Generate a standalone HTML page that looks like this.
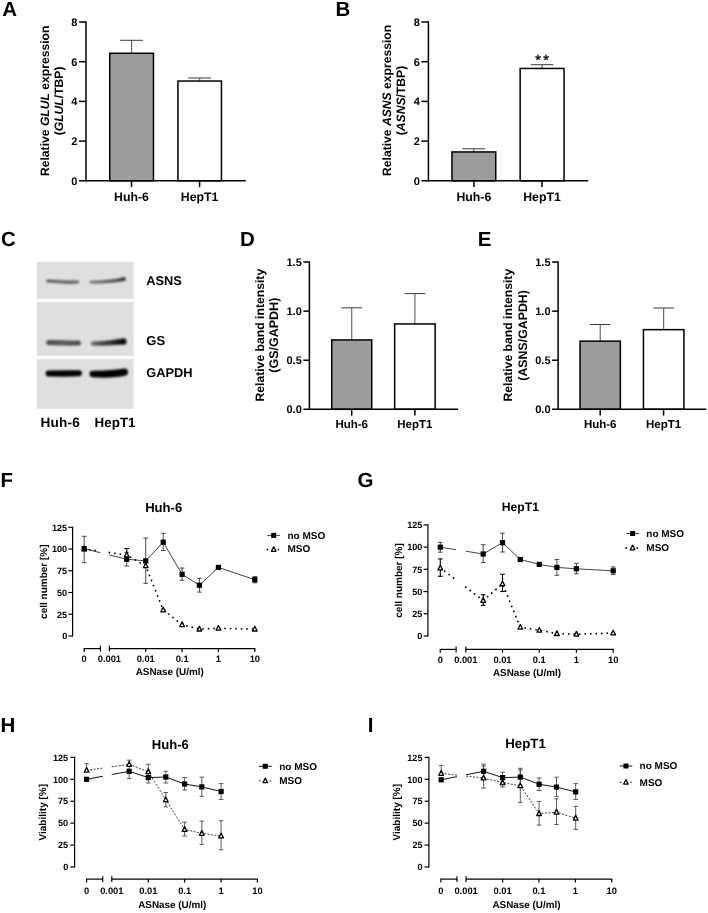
<!DOCTYPE html>
<html lang="en"><head><meta charset="utf-8"><title>Figure</title>
<style>html,body{margin:0;padding:0;background:#fff}svg{display:block}</style></head>
<body>
<svg width="708" height="913" viewBox="0 0 708 913" font-family='"Liberation Sans", Arial, Helvetica, sans-serif' fill="#000" text-rendering="geometricPrecision">
<defs>
<filter id="b1" x="-20%" y="-100%" width="140%" height="300%"><feGaussianBlur stdDeviation="0.9"/></filter>
<filter id="b2" x="-20%" y="-100%" width="140%" height="300%"><feGaussianBlur stdDeviation="1.2"/></filter>
<filter id="b3" x="-20%" y="-100%" width="140%" height="300%"><feGaussianBlur stdDeviation="0.95"/></filter>
</defs>
<rect width="708" height="913" fill="#fff"/>
<text x="2.3" y="16.3" font-size="20.5" font-weight="bold" text-anchor="start">A</text>
<text x="335.6" y="16.4" font-size="20.5" font-weight="bold" text-anchor="start">B</text>
<text x="1.0" y="245.5" font-size="20.5" font-weight="bold" text-anchor="start">C</text>
<text x="239.9" y="245.6" font-size="20.5" font-weight="bold" text-anchor="start">D</text>
<text x="477.8" y="245.6" font-size="20.5" font-weight="bold" text-anchor="start">E</text>
<text x="0.5" y="486.7" font-size="20.5" font-weight="bold" text-anchor="start">F</text>
<text x="357.6" y="486.9" font-size="20.5" font-weight="bold" text-anchor="start">G</text>
<text x="0.5" y="731.9" font-size="20.5" font-weight="bold" text-anchor="start">H</text>
<text x="367.8" y="731.9" font-size="20.5" font-weight="bold" text-anchor="start">I</text>
<line x1="131.60" y1="40.30" x2="131.60" y2="53.50" stroke="#3a3a3a" stroke-width="0.9"/>
<line x1="120.20" y1="40.30" x2="143.00" y2="40.30" stroke="#3a3a3a" stroke-width="1.0"/>
<line x1="199.70" y1="78.00" x2="199.70" y2="81.30" stroke="#3a3a3a" stroke-width="0.9"/>
<line x1="188.20" y1="78.00" x2="211.20" y2="78.00" stroke="#3a3a3a" stroke-width="1.0"/>
<rect x="109.75" y="53.25" width="43.70" height="127.55" fill="#9c9c9c" stroke="#000" stroke-width="1.5"/>
<rect x="177.95" y="81.05" width="43.50" height="99.75" fill="#fff" stroke="#000" stroke-width="1.5"/>
<line x1="86.00" y1="21.25" x2="86.00" y2="181.55" stroke="#000" stroke-width="1.5"/>
<line x1="79.00" y1="180.80" x2="245.80" y2="180.80" stroke="#000" stroke-width="1.5"/>
<text x="77.4" y="184.76000000000002" font-size="11" font-weight="bold" text-anchor="end">0</text>
<line x1="79.00" y1="141.10" x2="86.00" y2="141.10" stroke="#000" stroke-width="1.5"/>
<text x="77.4" y="145.06000000000003" font-size="11" font-weight="bold" text-anchor="end">2</text>
<line x1="79.00" y1="101.40" x2="86.00" y2="101.40" stroke="#000" stroke-width="1.5"/>
<text x="77.4" y="105.36" font-size="11" font-weight="bold" text-anchor="end">4</text>
<line x1="79.00" y1="61.70" x2="86.00" y2="61.70" stroke="#000" stroke-width="1.5"/>
<text x="77.4" y="65.66" font-size="11" font-weight="bold" text-anchor="end">6</text>
<line x1="79.00" y1="22.00" x2="86.00" y2="22.00" stroke="#000" stroke-width="1.5"/>
<text x="77.4" y="25.96" font-size="11" font-weight="bold" text-anchor="end">8</text>
<line x1="131.50" y1="180.80" x2="131.50" y2="187.10" stroke="#000" stroke-width="1.5"/>
<text x="131.5" y="201.0" font-size="12.3" font-weight="bold" text-anchor="middle">Huh-6</text>
<line x1="199.60" y1="180.80" x2="199.60" y2="187.10" stroke="#000" stroke-width="1.5"/>
<text x="199.6" y="201.0" font-size="12.3" font-weight="bold" text-anchor="middle">HepT1</text>
<text x="48.8" y="100.8" font-size="12.15" font-weight="bold" text-anchor="middle" transform="rotate(-90 48.8 100.8)">Relative <tspan font-style="italic">GLUL</tspan> expression</text>
<text x="62.8" y="100.9" font-size="12.15" font-weight="bold" text-anchor="middle" transform="rotate(-90 62.8 100.9)">(<tspan font-style="italic">GLUL</tspan>/TBP)</text>
<line x1="473.85" y1="148.80" x2="473.85" y2="152.20" stroke="#3a3a3a" stroke-width="0.9"/>
<line x1="462.45" y1="148.80" x2="485.25" y2="148.80" stroke="#3a3a3a" stroke-width="1.0"/>
<line x1="542.10" y1="64.70" x2="542.10" y2="68.70" stroke="#3a3a3a" stroke-width="0.9"/>
<line x1="530.70" y1="64.70" x2="553.50" y2="64.70" stroke="#3a3a3a" stroke-width="1.0"/>
<rect x="451.95" y="151.95" width="43.80" height="28.85" fill="#9c9c9c" stroke="#000" stroke-width="1.5"/>
<rect x="520.15" y="68.45" width="43.90" height="112.35" fill="#fff" stroke="#000" stroke-width="1.5"/>
<line x1="428.40" y1="21.25" x2="428.40" y2="181.55" stroke="#000" stroke-width="1.5"/>
<line x1="421.40" y1="180.80" x2="588.20" y2="180.80" stroke="#000" stroke-width="1.5"/>
<text x="419.79999999999995" y="184.76000000000002" font-size="11" font-weight="bold" text-anchor="end">0</text>
<line x1="421.40" y1="141.10" x2="428.40" y2="141.10" stroke="#000" stroke-width="1.5"/>
<text x="419.79999999999995" y="145.06000000000003" font-size="11" font-weight="bold" text-anchor="end">2</text>
<line x1="421.40" y1="101.40" x2="428.40" y2="101.40" stroke="#000" stroke-width="1.5"/>
<text x="419.79999999999995" y="105.36" font-size="11" font-weight="bold" text-anchor="end">4</text>
<line x1="421.40" y1="61.70" x2="428.40" y2="61.70" stroke="#000" stroke-width="1.5"/>
<text x="419.79999999999995" y="65.66" font-size="11" font-weight="bold" text-anchor="end">6</text>
<line x1="421.40" y1="22.00" x2="428.40" y2="22.00" stroke="#000" stroke-width="1.5"/>
<text x="419.79999999999995" y="25.96" font-size="11" font-weight="bold" text-anchor="end">8</text>
<line x1="473.90" y1="180.80" x2="473.90" y2="187.10" stroke="#000" stroke-width="1.5"/>
<text x="473.9" y="201.0" font-size="12.3" font-weight="bold" text-anchor="middle">Huh-6</text>
<line x1="542.00" y1="180.80" x2="542.00" y2="187.10" stroke="#000" stroke-width="1.5"/>
<text x="542.0" y="201.0" font-size="12.3" font-weight="bold" text-anchor="middle">HepT1</text>
<text x="391.2" y="100.4" font-size="12.15" font-weight="bold" text-anchor="middle" transform="rotate(-90 391.2 100.4)">Relative <tspan font-style="italic">ASNS</tspan> expression</text>
<text x="405.2" y="100.5" font-size="12.15" font-weight="bold" text-anchor="middle" transform="rotate(-90 405.2 100.5)">(<tspan font-style="italic">ASNS</tspan>/TBP)</text>
<text x="538.1" y="64.9" font-size="14.6" font-weight="normal" text-anchor="middle" stroke="#000" stroke-width="0.35">*</text>
<text x="546.0" y="64.9" font-size="14.6" font-weight="normal" text-anchor="middle" stroke="#000" stroke-width="0.35">*</text>
<line x1="351.75" y1="307.80" x2="351.75" y2="340.20" stroke="#3a3a3a" stroke-width="0.9"/>
<line x1="341.45" y1="307.80" x2="362.05" y2="307.80" stroke="#3a3a3a" stroke-width="1.0"/>
<line x1="414.90" y1="293.60" x2="414.90" y2="324.20" stroke="#3a3a3a" stroke-width="0.9"/>
<line x1="404.60" y1="293.60" x2="425.20" y2="293.60" stroke="#3a3a3a" stroke-width="1.0"/>
<rect x="331.75" y="339.95" width="40.00" height="69.35" fill="#9c9c9c" stroke="#000" stroke-width="1.5"/>
<rect x="394.65" y="323.95" width="40.50" height="85.35" fill="#fff" stroke="#000" stroke-width="1.5"/>
<line x1="309.40" y1="261.30" x2="309.40" y2="410.05" stroke="#000" stroke-width="1.5"/>
<line x1="303.40" y1="409.30" x2="458.10" y2="409.30" stroke="#000" stroke-width="1.5"/>
<text x="301.79999999999995" y="413.26" font-size="11" font-weight="bold" text-anchor="end">0.0</text>
<line x1="303.40" y1="360.22" x2="309.40" y2="360.22" stroke="#000" stroke-width="1.5"/>
<text x="301.79999999999995" y="364.1766666666667" font-size="11" font-weight="bold" text-anchor="end">0.5</text>
<line x1="303.40" y1="311.13" x2="309.40" y2="311.13" stroke="#000" stroke-width="1.5"/>
<text x="301.79999999999995" y="315.0933333333333" font-size="11" font-weight="bold" text-anchor="end">1.0</text>
<line x1="303.40" y1="262.05" x2="309.40" y2="262.05" stroke="#000" stroke-width="1.5"/>
<text x="301.79999999999995" y="266.01" font-size="11" font-weight="bold" text-anchor="end">1.5</text>
<line x1="351.70" y1="409.30" x2="351.70" y2="415.60" stroke="#000" stroke-width="1.5"/>
<text x="351.7" y="428.0" font-size="11.5" font-weight="bold" text-anchor="middle">Huh-6</text>
<line x1="414.90" y1="409.30" x2="414.90" y2="415.60" stroke="#000" stroke-width="1.5"/>
<text x="414.9" y="428.0" font-size="11.5" font-weight="bold" text-anchor="middle">HepT1</text>
<text x="263.8" y="335.2" font-size="12.2" font-weight="bold" text-anchor="middle" transform="rotate(-90 263.8 335.2)">Relative band intensity</text>
<text x="278.5" y="335.2" font-size="12.5" font-weight="bold" text-anchor="middle" transform="rotate(-90 278.5 335.2)">(GS/GAPDH)</text>
<line x1="600.20" y1="324.50" x2="600.20" y2="341.40" stroke="#3a3a3a" stroke-width="0.9"/>
<line x1="589.90" y1="324.50" x2="610.50" y2="324.50" stroke="#3a3a3a" stroke-width="1.0"/>
<line x1="663.70" y1="308.00" x2="663.70" y2="329.90" stroke="#3a3a3a" stroke-width="0.9"/>
<line x1="653.40" y1="308.00" x2="674.00" y2="308.00" stroke="#3a3a3a" stroke-width="1.0"/>
<rect x="580.05" y="341.15" width="40.30" height="68.15" fill="#9c9c9c" stroke="#000" stroke-width="1.5"/>
<rect x="643.45" y="329.65" width="40.50" height="79.65" fill="#fff" stroke="#000" stroke-width="1.5"/>
<line x1="558.10" y1="261.30" x2="558.10" y2="410.05" stroke="#000" stroke-width="1.5"/>
<line x1="552.10" y1="409.30" x2="706.40" y2="409.30" stroke="#000" stroke-width="1.5"/>
<text x="550.4999999999999" y="413.26" font-size="11" font-weight="bold" text-anchor="end">0.0</text>
<line x1="552.10" y1="360.22" x2="558.10" y2="360.22" stroke="#000" stroke-width="1.5"/>
<text x="550.4999999999999" y="364.1766666666667" font-size="11" font-weight="bold" text-anchor="end">0.5</text>
<line x1="552.10" y1="311.13" x2="558.10" y2="311.13" stroke="#000" stroke-width="1.5"/>
<text x="550.4999999999999" y="315.0933333333333" font-size="11" font-weight="bold" text-anchor="end">1.0</text>
<line x1="552.10" y1="262.05" x2="558.10" y2="262.05" stroke="#000" stroke-width="1.5"/>
<text x="550.4999999999999" y="266.01" font-size="11" font-weight="bold" text-anchor="end">1.5</text>
<line x1="600.20" y1="409.30" x2="600.20" y2="415.60" stroke="#000" stroke-width="1.5"/>
<text x="600.2" y="428.0" font-size="11.5" font-weight="bold" text-anchor="middle">Huh-6</text>
<line x1="663.60" y1="409.30" x2="663.60" y2="415.60" stroke="#000" stroke-width="1.5"/>
<text x="663.6" y="428.0" font-size="11.5" font-weight="bold" text-anchor="middle">HepT1</text>
<text x="512.5" y="335.2" font-size="12.2" font-weight="bold" text-anchor="middle" transform="rotate(-90 512.5 335.2)">Relative band intensity</text>
<text x="527.2" y="335.4" font-size="12.35" font-weight="bold" text-anchor="middle" transform="rotate(-90 527.2 335.4)">(ASNS/GAPDH)</text>
<rect x="36.8" y="261.8" width="96.9" height="36.9" fill="#dedede"/>
<rect x="36.8" y="302.1" width="96.9" height="53.7" fill="#dedede"/>
<rect x="36.8" y="359.2" width="96.9" height="49.6" fill="#dedede"/>
<g stroke="#fff" opacity="0.10">
<line x1="40.0" y1="262.3" x2="40.0" y2="298.3" stroke-width="0.7"/>
<line x1="40.0" y1="302.6" x2="40.0" y2="355.3" stroke-width="0.7"/>
<line x1="40.0" y1="359.7" x2="40.0" y2="408.3" stroke-width="0.7"/>
<line x1="42.3" y1="262.3" x2="42.3" y2="298.3" stroke-width="0.7"/>
<line x1="42.3" y1="302.6" x2="42.3" y2="355.3" stroke-width="0.7"/>
<line x1="42.3" y1="359.7" x2="42.3" y2="408.3" stroke-width="0.7"/>
<line x1="44.1" y1="262.3" x2="44.1" y2="298.3" stroke-width="0.5"/>
<line x1="44.1" y1="302.6" x2="44.1" y2="355.3" stroke-width="0.5"/>
<line x1="44.1" y1="359.7" x2="44.1" y2="408.3" stroke-width="0.5"/>
<line x1="45.9" y1="262.3" x2="45.9" y2="298.3" stroke-width="0.7"/>
<line x1="45.9" y1="302.6" x2="45.9" y2="355.3" stroke-width="0.7"/>
<line x1="45.9" y1="359.7" x2="45.9" y2="408.3" stroke-width="0.7"/>
<line x1="47.7" y1="262.3" x2="47.7" y2="298.3" stroke-width="0.9"/>
<line x1="47.7" y1="302.6" x2="47.7" y2="355.3" stroke-width="0.9"/>
<line x1="47.7" y1="359.7" x2="47.7" y2="408.3" stroke-width="0.9"/>
<line x1="50.0" y1="262.3" x2="50.0" y2="298.3" stroke-width="0.5"/>
<line x1="50.0" y1="302.6" x2="50.0" y2="355.3" stroke-width="0.5"/>
<line x1="50.0" y1="359.7" x2="50.0" y2="408.3" stroke-width="0.5"/>
<line x1="51.8" y1="262.3" x2="51.8" y2="298.3" stroke-width="0.7"/>
<line x1="51.8" y1="302.6" x2="51.8" y2="355.3" stroke-width="0.7"/>
<line x1="51.8" y1="359.7" x2="51.8" y2="408.3" stroke-width="0.7"/>
<line x1="55.4" y1="262.3" x2="55.4" y2="298.3" stroke-width="0.5"/>
<line x1="55.4" y1="302.6" x2="55.4" y2="355.3" stroke-width="0.5"/>
<line x1="55.4" y1="359.7" x2="55.4" y2="408.3" stroke-width="0.5"/>
<line x1="57.7" y1="262.3" x2="57.7" y2="298.3" stroke-width="0.5"/>
<line x1="57.7" y1="302.6" x2="57.7" y2="355.3" stroke-width="0.5"/>
<line x1="57.7" y1="359.7" x2="57.7" y2="408.3" stroke-width="0.5"/>
<line x1="61.3" y1="262.3" x2="61.3" y2="298.3" stroke-width="0.5"/>
<line x1="61.3" y1="302.6" x2="61.3" y2="355.3" stroke-width="0.5"/>
<line x1="61.3" y1="359.7" x2="61.3" y2="408.3" stroke-width="0.5"/>
<line x1="63.1" y1="262.3" x2="63.1" y2="298.3" stroke-width="0.5"/>
<line x1="63.1" y1="302.6" x2="63.1" y2="355.3" stroke-width="0.5"/>
<line x1="63.1" y1="359.7" x2="63.1" y2="408.3" stroke-width="0.5"/>
<line x1="64.9" y1="262.3" x2="64.9" y2="298.3" stroke-width="0.9"/>
<line x1="64.9" y1="302.6" x2="64.9" y2="355.3" stroke-width="0.9"/>
<line x1="64.9" y1="359.7" x2="64.9" y2="408.3" stroke-width="0.9"/>
<line x1="68.5" y1="262.3" x2="68.5" y2="298.3" stroke-width="0.5"/>
<line x1="68.5" y1="302.6" x2="68.5" y2="355.3" stroke-width="0.5"/>
<line x1="68.5" y1="359.7" x2="68.5" y2="408.3" stroke-width="0.5"/>
<line x1="70.8" y1="262.3" x2="70.8" y2="298.3" stroke-width="0.5"/>
<line x1="70.8" y1="302.6" x2="70.8" y2="355.3" stroke-width="0.5"/>
<line x1="70.8" y1="359.7" x2="70.8" y2="408.3" stroke-width="0.5"/>
<line x1="73.1" y1="262.3" x2="73.1" y2="298.3" stroke-width="0.7"/>
<line x1="73.1" y1="302.6" x2="73.1" y2="355.3" stroke-width="0.7"/>
<line x1="73.1" y1="359.7" x2="73.1" y2="408.3" stroke-width="0.7"/>
<line x1="76.7" y1="262.3" x2="76.7" y2="298.3" stroke-width="0.5"/>
<line x1="76.7" y1="302.6" x2="76.7" y2="355.3" stroke-width="0.5"/>
<line x1="76.7" y1="359.7" x2="76.7" y2="408.3" stroke-width="0.5"/>
<line x1="78.5" y1="262.3" x2="78.5" y2="298.3" stroke-width="0.9"/>
<line x1="78.5" y1="302.6" x2="78.5" y2="355.3" stroke-width="0.9"/>
<line x1="78.5" y1="359.7" x2="78.5" y2="408.3" stroke-width="0.9"/>
<line x1="81.4" y1="262.3" x2="81.4" y2="298.3" stroke-width="0.9"/>
<line x1="81.4" y1="302.6" x2="81.4" y2="355.3" stroke-width="0.9"/>
<line x1="81.4" y1="359.7" x2="81.4" y2="408.3" stroke-width="0.9"/>
<line x1="83.7" y1="262.3" x2="83.7" y2="298.3" stroke-width="0.5"/>
<line x1="83.7" y1="302.6" x2="83.7" y2="355.3" stroke-width="0.5"/>
<line x1="83.7" y1="359.7" x2="83.7" y2="408.3" stroke-width="0.5"/>
<line x1="86.0" y1="262.3" x2="86.0" y2="298.3" stroke-width="0.7"/>
<line x1="86.0" y1="302.6" x2="86.0" y2="355.3" stroke-width="0.7"/>
<line x1="86.0" y1="359.7" x2="86.0" y2="408.3" stroke-width="0.7"/>
<line x1="87.8" y1="262.3" x2="87.8" y2="298.3" stroke-width="0.9"/>
<line x1="87.8" y1="302.6" x2="87.8" y2="355.3" stroke-width="0.9"/>
<line x1="87.8" y1="359.7" x2="87.8" y2="408.3" stroke-width="0.9"/>
<line x1="89.6" y1="262.3" x2="89.6" y2="298.3" stroke-width="0.9"/>
<line x1="89.6" y1="302.6" x2="89.6" y2="355.3" stroke-width="0.9"/>
<line x1="89.6" y1="359.7" x2="89.6" y2="408.3" stroke-width="0.9"/>
<line x1="91.4" y1="262.3" x2="91.4" y2="298.3" stroke-width="0.9"/>
<line x1="91.4" y1="302.6" x2="91.4" y2="355.3" stroke-width="0.9"/>
<line x1="91.4" y1="359.7" x2="91.4" y2="408.3" stroke-width="0.9"/>
<line x1="93.7" y1="262.3" x2="93.7" y2="298.3" stroke-width="0.7"/>
<line x1="93.7" y1="302.6" x2="93.7" y2="355.3" stroke-width="0.7"/>
<line x1="93.7" y1="359.7" x2="93.7" y2="408.3" stroke-width="0.7"/>
<line x1="97.3" y1="262.3" x2="97.3" y2="298.3" stroke-width="0.7"/>
<line x1="97.3" y1="302.6" x2="97.3" y2="355.3" stroke-width="0.7"/>
<line x1="97.3" y1="359.7" x2="97.3" y2="408.3" stroke-width="0.7"/>
<line x1="100.9" y1="262.3" x2="100.9" y2="298.3" stroke-width="0.9"/>
<line x1="100.9" y1="302.6" x2="100.9" y2="355.3" stroke-width="0.9"/>
<line x1="100.9" y1="359.7" x2="100.9" y2="408.3" stroke-width="0.9"/>
<line x1="104.5" y1="262.3" x2="104.5" y2="298.3" stroke-width="0.7"/>
<line x1="104.5" y1="302.6" x2="104.5" y2="355.3" stroke-width="0.7"/>
<line x1="104.5" y1="359.7" x2="104.5" y2="408.3" stroke-width="0.7"/>
<line x1="107.4" y1="262.3" x2="107.4" y2="298.3" stroke-width="0.5"/>
<line x1="107.4" y1="302.6" x2="107.4" y2="355.3" stroke-width="0.5"/>
<line x1="107.4" y1="359.7" x2="107.4" y2="408.3" stroke-width="0.5"/>
<line x1="109.7" y1="262.3" x2="109.7" y2="298.3" stroke-width="0.9"/>
<line x1="109.7" y1="302.6" x2="109.7" y2="355.3" stroke-width="0.9"/>
<line x1="109.7" y1="359.7" x2="109.7" y2="408.3" stroke-width="0.9"/>
<line x1="112.0" y1="262.3" x2="112.0" y2="298.3" stroke-width="0.5"/>
<line x1="112.0" y1="302.6" x2="112.0" y2="355.3" stroke-width="0.5"/>
<line x1="112.0" y1="359.7" x2="112.0" y2="408.3" stroke-width="0.5"/>
<line x1="114.9" y1="262.3" x2="114.9" y2="298.3" stroke-width="0.9"/>
<line x1="114.9" y1="302.6" x2="114.9" y2="355.3" stroke-width="0.9"/>
<line x1="114.9" y1="359.7" x2="114.9" y2="408.3" stroke-width="0.9"/>
<line x1="118.5" y1="262.3" x2="118.5" y2="298.3" stroke-width="0.7"/>
<line x1="118.5" y1="302.6" x2="118.5" y2="355.3" stroke-width="0.7"/>
<line x1="118.5" y1="359.7" x2="118.5" y2="408.3" stroke-width="0.7"/>
<line x1="122.1" y1="262.3" x2="122.1" y2="298.3" stroke-width="0.7"/>
<line x1="122.1" y1="302.6" x2="122.1" y2="355.3" stroke-width="0.7"/>
<line x1="122.1" y1="359.7" x2="122.1" y2="408.3" stroke-width="0.7"/>
<line x1="123.9" y1="262.3" x2="123.9" y2="298.3" stroke-width="0.5"/>
<line x1="123.9" y1="302.6" x2="123.9" y2="355.3" stroke-width="0.5"/>
<line x1="123.9" y1="359.7" x2="123.9" y2="408.3" stroke-width="0.5"/>
<line x1="127.5" y1="262.3" x2="127.5" y2="298.3" stroke-width="0.5"/>
<line x1="127.5" y1="302.6" x2="127.5" y2="355.3" stroke-width="0.5"/>
<line x1="127.5" y1="359.7" x2="127.5" y2="408.3" stroke-width="0.5"/>
<line x1="130.4" y1="262.3" x2="130.4" y2="298.3" stroke-width="0.5"/>
<line x1="130.4" y1="302.6" x2="130.4" y2="355.3" stroke-width="0.5"/>
<line x1="130.4" y1="359.7" x2="130.4" y2="408.3" stroke-width="0.5"/>
</g>
<linearGradient id="gs2" x1="0" x2="1" y1="0" y2="0"><stop offset="0" stop-color="#6e6e6e"/><stop offset="0.45" stop-color="#3c3c3c"/><stop offset="0.8" stop-color="#141414"/><stop offset="1" stop-color="#0a0a0a"/></linearGradient>
<linearGradient id="as1" x1="0" x2="1" y1="0" y2="0"><stop offset="0" stop-color="#505050"/><stop offset="0.4" stop-color="#6c6c6c"/><stop offset="1" stop-color="#626262"/></linearGradient>
<linearGradient id="as2" x1="0" x2="1" y1="0" y2="0"><stop offset="0" stop-color="#707070"/><stop offset="0.7" stop-color="#585858"/><stop offset="1" stop-color="#2c2c2c"/></linearGradient>
<linearGradient id="gs1" x1="0" x2="1" y1="0" y2="0"><stop offset="0" stop-color="#484848"/><stop offset="0.5" stop-color="#5e5e5e"/><stop offset="1" stop-color="#4c4c4c"/></linearGradient>
<path d="M47.60 279.40 L55.00 279.65 L63.00 280.30 L71.00 280.50 L77.60 280.40 A1.60 1.60 0 0 1 77.60 283.60 L71.00 283.90 L63.00 283.70 L55.00 282.95 L47.60 282.40 A1.50 1.50 0 0 1 47.60 279.40 Z" fill="url(#as1)" filter="url(#b1)" opacity="1.0"/>
<path d="M90.80 280.80 L100.00 280.40 L110.00 279.50 L118.00 278.50 L123.80 276.90 A2.00 2.00 0 0 1 123.80 280.90 L118.00 281.90 L110.00 282.90 L100.00 283.60 L90.80 283.60 A1.40 1.40 0 0 1 90.80 280.80 Z" fill="url(#as2)" filter="url(#b1)" opacity="1.0"/>
<path d="M48.90 339.90 L60.00 340.10 L70.00 340.40 L78.30 340.40 A2.60 2.60 0 0 1 78.30 345.60 L70.00 345.80 L60.00 345.50 L48.90 345.10 A2.60 2.60 0 0 1 48.90 339.90 Z" fill="url(#gs1)" filter="url(#b2)" opacity="1.0"/>
<path d="M93.00 341.60 L102.00 341.05 L112.00 340.00 L119.00 339.00 L123.20 338.20 A3.30 3.30 0 0 1 123.20 344.80 L119.00 344.80 L112.00 345.20 L102.00 345.75 L93.00 345.80 A2.10 2.10 0 0 1 93.00 341.60 Z" fill="url(#gs2)" filter="url(#b2)" opacity="1.0"/>
<path d="M48.60 370.40 L65.00 370.35 L79.00 370.35 A2.95 2.95 0 0 1 79.00 376.25 L65.00 376.65 L48.60 376.40 A3.00 3.00 0 0 1 48.60 370.40 Z" fill="#060606" filter="url(#b3)" opacity="1.0"/>
<path d="M92.80 370.70 L104.00 370.55 L114.00 369.85 L121.00 368.90 L124.40 368.50 A3.60 3.60 0 0 1 124.40 375.70 L121.00 376.50 L114.00 377.35 L104.00 377.65 L92.80 377.30 A3.30 3.30 0 0 1 92.80 370.70 Z" fill="#060606" filter="url(#b3)" opacity="1.0"/>
<text x="146.2" y="284.9" font-size="12.8" font-weight="bold" text-anchor="start">ASNS</text>
<text x="146.3" y="345.1" font-size="13.0" font-weight="bold" text-anchor="start">GS</text>
<text x="146.2" y="377.3" font-size="12.8" font-weight="bold" text-anchor="start">GAPDH</text>
<text x="40.4" y="427.3" font-size="13.6" font-weight="bold" text-anchor="start" letter-spacing="0.2">Huh-6</text>
<text x="94.6" y="427.3" font-size="13.4" font-weight="bold" text-anchor="start">HepT1</text>
<line x1="126.70" y1="548.50" x2="126.70" y2="561.00" stroke="#000" stroke-width="1.1"/>
<line x1="124.40" y1="548.50" x2="129.00" y2="548.50" stroke="#000" stroke-width="1.1"/>
<line x1="124.40" y1="561.00" x2="129.00" y2="561.00" stroke="#000" stroke-width="1.1"/>
<line x1="84.20" y1="536.30" x2="84.20" y2="562.70" stroke="#2a2a2a" stroke-width="0.85"/>
<line x1="81.90" y1="536.30" x2="86.50" y2="536.30" stroke="#2a2a2a" stroke-width="0.85"/>
<line x1="81.90" y1="562.70" x2="86.50" y2="562.70" stroke="#2a2a2a" stroke-width="0.85"/>
<line x1="126.70" y1="552.30" x2="126.70" y2="566.00" stroke="#2a2a2a" stroke-width="0.85"/>
<line x1="124.40" y1="552.30" x2="129.00" y2="552.30" stroke="#2a2a2a" stroke-width="0.85"/>
<line x1="124.40" y1="566.00" x2="129.00" y2="566.00" stroke="#2a2a2a" stroke-width="0.85"/>
<line x1="145.70" y1="538.10" x2="145.70" y2="583.30" stroke="#2a2a2a" stroke-width="0.85"/>
<line x1="143.40" y1="538.10" x2="148.00" y2="538.10" stroke="#2a2a2a" stroke-width="0.85"/>
<line x1="143.40" y1="583.30" x2="148.00" y2="583.30" stroke="#2a2a2a" stroke-width="0.85"/>
<line x1="163.20" y1="533.30" x2="163.20" y2="550.50" stroke="#2a2a2a" stroke-width="0.85"/>
<line x1="160.90" y1="533.30" x2="165.50" y2="533.30" stroke="#2a2a2a" stroke-width="0.85"/>
<line x1="160.90" y1="550.50" x2="165.50" y2="550.50" stroke="#2a2a2a" stroke-width="0.85"/>
<line x1="182.10" y1="568.00" x2="182.10" y2="580.30" stroke="#2a2a2a" stroke-width="0.85"/>
<line x1="179.80" y1="568.00" x2="184.40" y2="568.00" stroke="#2a2a2a" stroke-width="0.85"/>
<line x1="179.80" y1="580.30" x2="184.40" y2="580.30" stroke="#2a2a2a" stroke-width="0.85"/>
<line x1="199.40" y1="578.30" x2="199.40" y2="592.10" stroke="#2a2a2a" stroke-width="0.85"/>
<line x1="197.10" y1="578.30" x2="201.70" y2="578.30" stroke="#2a2a2a" stroke-width="0.85"/>
<line x1="197.10" y1="592.10" x2="201.70" y2="592.10" stroke="#2a2a2a" stroke-width="0.85"/>
<line x1="254.80" y1="576.60" x2="254.80" y2="582.80" stroke="#2a2a2a" stroke-width="0.85"/>
<line x1="252.50" y1="576.60" x2="257.10" y2="576.60" stroke="#2a2a2a" stroke-width="0.85"/>
<line x1="252.50" y1="582.80" x2="257.10" y2="582.80" stroke="#2a2a2a" stroke-width="0.85"/>
<path d="M84.20 548.90 L100.40 551.23" fill="none" stroke="#000" stroke-width="1.8" stroke-dasharray="0.01 5.5" stroke-linecap="round"/>
<path d="M109.40 552.52 L126.70 555.00 L145.70 565.80 L163.20 609.90 L182.10 624.70 L199.40 629.10 L218.40 628.30 L254.80 629.10 " fill="none" stroke="#000" stroke-width="1.8" stroke-dasharray="0.01 5.5" stroke-linecap="round"/>
<path d="M84.20 548.70 L100.40 552.70" fill="none" stroke="#111" stroke-width="0.8"/>
<path d="M109.40 554.93 L126.70 559.20 L145.70 560.90 L163.20 542.20 L182.10 574.30 L199.40 585.20 L218.40 567.40 L254.80 579.70 " fill="none" stroke="#111" stroke-width="0.8"/>
<path d="M84.20 546.10 L86.55 550.80 L81.85 550.80 Z" fill="#fff" stroke="#000" stroke-width="1.3" stroke-linejoin="round"/>
<path d="M126.70 552.20 L129.05 556.90 L124.35 556.90 Z" fill="#fff" stroke="#000" stroke-width="1.3" stroke-linejoin="round"/>
<path d="M145.70 563.00 L148.05 567.70 L143.35 567.70 Z" fill="#fff" stroke="#000" stroke-width="1.3" stroke-linejoin="round"/>
<path d="M163.20 607.10 L165.55 611.80 L160.85 611.80 Z" fill="#fff" stroke="#000" stroke-width="1.3" stroke-linejoin="round"/>
<path d="M182.10 621.90 L184.45 626.60 L179.75 626.60 Z" fill="#fff" stroke="#000" stroke-width="1.3" stroke-linejoin="round"/>
<path d="M199.40 626.30 L201.75 631.00 L197.05 631.00 Z" fill="#fff" stroke="#000" stroke-width="1.3" stroke-linejoin="round"/>
<path d="M218.40 625.50 L220.75 630.20 L216.05 630.20 Z" fill="#fff" stroke="#000" stroke-width="1.3" stroke-linejoin="round"/>
<path d="M254.80 626.30 L257.15 631.00 L252.45 631.00 Z" fill="#fff" stroke="#000" stroke-width="1.3" stroke-linejoin="round"/>
<rect x="81.60" y="546.10" width="5.2" height="5.2" fill="#000"/>
<rect x="124.10" y="556.60" width="5.2" height="5.2" fill="#000"/>
<rect x="143.10" y="558.30" width="5.2" height="5.2" fill="#000"/>
<rect x="160.60" y="539.60" width="5.2" height="5.2" fill="#000"/>
<rect x="179.50" y="571.70" width="5.2" height="5.2" fill="#000"/>
<rect x="196.80" y="582.60" width="5.2" height="5.2" fill="#000"/>
<rect x="215.80" y="564.80" width="5.2" height="5.2" fill="#000"/>
<rect x="252.20" y="577.10" width="5.2" height="5.2" fill="#000"/>
<line x1="72.60" y1="526.70" x2="72.60" y2="636.60" stroke="#000" stroke-width="1.2"/>
<line x1="68.30" y1="636.00" x2="72.60" y2="636.00" stroke="#000" stroke-width="1.2"/>
<text x="67.2" y="639.25" font-size="9.1" font-weight="bold" text-anchor="end">0</text>
<line x1="68.30" y1="614.26" x2="72.60" y2="614.26" stroke="#000" stroke-width="1.2"/>
<text x="67.2" y="617.51" font-size="9.1" font-weight="bold" text-anchor="end">25</text>
<line x1="68.30" y1="592.52" x2="72.60" y2="592.52" stroke="#000" stroke-width="1.2"/>
<text x="67.2" y="595.77" font-size="9.1" font-weight="bold" text-anchor="end">50</text>
<line x1="68.30" y1="570.78" x2="72.60" y2="570.78" stroke="#000" stroke-width="1.2"/>
<text x="67.2" y="574.03" font-size="9.1" font-weight="bold" text-anchor="end">75</text>
<line x1="68.30" y1="549.04" x2="72.60" y2="549.04" stroke="#000" stroke-width="1.2"/>
<text x="67.2" y="552.29" font-size="9.1" font-weight="bold" text-anchor="end">100</text>
<line x1="68.30" y1="527.30" x2="72.60" y2="527.30" stroke="#000" stroke-width="1.2"/>
<text x="67.2" y="530.55" font-size="9.1" font-weight="bold" text-anchor="end">125</text>
<line x1="83.60" y1="648.60" x2="100.40" y2="648.60" stroke="#000" stroke-width="1.2"/>
<line x1="84.20" y1="648.60" x2="84.20" y2="652.00" stroke="#000" stroke-width="1.2"/>
<line x1="100.40" y1="645.80" x2="100.40" y2="651.60" stroke="#000" stroke-width="1.2"/>
<line x1="109.40" y1="645.80" x2="109.40" y2="651.60" stroke="#000" stroke-width="1.2"/>
<line x1="109.40" y1="648.60" x2="255.40" y2="648.60" stroke="#000" stroke-width="1.2"/>
<line x1="145.70" y1="648.60" x2="145.70" y2="652.00" stroke="#000" stroke-width="1.2"/>
<line x1="182.10" y1="648.60" x2="182.10" y2="652.00" stroke="#000" stroke-width="1.2"/>
<line x1="218.40" y1="648.60" x2="218.40" y2="652.00" stroke="#000" stroke-width="1.2"/>
<line x1="254.80" y1="648.60" x2="254.80" y2="652.00" stroke="#000" stroke-width="1.2"/>
<text x="84.2" y="662.4" font-size="9.3" font-weight="bold" text-anchor="middle">0</text>
<text x="109.4" y="662.4" font-size="9.3" font-weight="bold" text-anchor="middle">0.001</text>
<text x="145.7" y="662.4" font-size="9.3" font-weight="bold" text-anchor="middle">0.01</text>
<text x="182.1" y="662.4" font-size="9.3" font-weight="bold" text-anchor="middle">0.1</text>
<text x="218.4" y="662.4" font-size="9.3" font-weight="bold" text-anchor="middle">1</text>
<text x="254.8" y="662.4" font-size="9.3" font-weight="bold" text-anchor="middle">10</text>
<text x="169.7" y="675.2" font-size="9.9" font-weight="bold" text-anchor="middle">ASNase (U/ml)</text>
<text x="46.9" y="581.65" font-size="10" font-weight="bold" text-anchor="middle" transform="rotate(-90 46.9 581.65)">cell number [%]</text>
<text x="163.7" y="511.7" font-size="13.1" font-weight="bold" text-anchor="middle">Huh-6</text>
<line x1="267.30" y1="535.40" x2="280.10" y2="535.40" stroke="#111" stroke-width="0.8"/>
<rect x="271.20" y="532.90" width="5" height="5" fill="#000"/>
<path d="M267.30 549.60 L280.10 549.60" fill="none" stroke="#000" stroke-width="1.8" stroke-dasharray="0.01 5.5" stroke-linecap="round"/>
<rect x="270.10" y="547.60" width="7.2" height="4" fill="#fff"/>
<path d="M273.70 546.80 L276.00 551.40 L271.40 551.40 Z" fill="#fff" stroke="#000" stroke-width="1.25" stroke-linejoin="round"/>
<text x="287.4" y="538.6" font-size="10" font-weight="bold" text-anchor="start">no MSO</text>
<text x="287.4" y="552.4" font-size="10" font-weight="bold" text-anchor="start">MSO</text>
<line x1="440.30" y1="558.90" x2="440.30" y2="576.30" stroke="#000" stroke-width="1.1"/>
<line x1="438.00" y1="558.90" x2="442.60" y2="558.90" stroke="#000" stroke-width="1.1"/>
<line x1="438.00" y1="576.30" x2="442.60" y2="576.30" stroke="#000" stroke-width="1.1"/>
<line x1="483.20" y1="594.70" x2="483.20" y2="605.40" stroke="#000" stroke-width="1.1"/>
<line x1="480.90" y1="594.70" x2="485.50" y2="594.70" stroke="#000" stroke-width="1.1"/>
<line x1="480.90" y1="605.40" x2="485.50" y2="605.40" stroke="#000" stroke-width="1.1"/>
<line x1="502.50" y1="574.30" x2="502.50" y2="591.50" stroke="#000" stroke-width="1.1"/>
<line x1="500.20" y1="574.30" x2="504.80" y2="574.30" stroke="#000" stroke-width="1.1"/>
<line x1="500.20" y1="591.50" x2="504.80" y2="591.50" stroke="#000" stroke-width="1.1"/>
<line x1="440.30" y1="542.30" x2="440.30" y2="552.20" stroke="#2a2a2a" stroke-width="0.85"/>
<line x1="438.00" y1="542.30" x2="442.60" y2="542.30" stroke="#2a2a2a" stroke-width="0.85"/>
<line x1="438.00" y1="552.20" x2="442.60" y2="552.20" stroke="#2a2a2a" stroke-width="0.85"/>
<line x1="483.20" y1="544.70" x2="483.20" y2="562.50" stroke="#2a2a2a" stroke-width="0.85"/>
<line x1="480.90" y1="544.70" x2="485.50" y2="544.70" stroke="#2a2a2a" stroke-width="0.85"/>
<line x1="480.90" y1="562.50" x2="485.50" y2="562.50" stroke="#2a2a2a" stroke-width="0.85"/>
<line x1="502.50" y1="533.20" x2="502.50" y2="552.00" stroke="#2a2a2a" stroke-width="0.85"/>
<line x1="500.20" y1="533.20" x2="504.80" y2="533.20" stroke="#2a2a2a" stroke-width="0.85"/>
<line x1="500.20" y1="552.00" x2="504.80" y2="552.00" stroke="#2a2a2a" stroke-width="0.85"/>
<line x1="556.90" y1="559.50" x2="556.90" y2="575.30" stroke="#2a2a2a" stroke-width="0.85"/>
<line x1="554.60" y1="559.50" x2="559.20" y2="559.50" stroke="#2a2a2a" stroke-width="0.85"/>
<line x1="554.60" y1="575.30" x2="559.20" y2="575.30" stroke="#2a2a2a" stroke-width="0.85"/>
<line x1="576.40" y1="563.40" x2="576.40" y2="573.70" stroke="#2a2a2a" stroke-width="0.85"/>
<line x1="574.10" y1="563.40" x2="578.70" y2="563.40" stroke="#2a2a2a" stroke-width="0.85"/>
<line x1="574.10" y1="573.70" x2="578.70" y2="573.70" stroke="#2a2a2a" stroke-width="0.85"/>
<line x1="613.20" y1="567.00" x2="613.20" y2="574.60" stroke="#2a2a2a" stroke-width="0.85"/>
<line x1="610.90" y1="567.00" x2="615.50" y2="567.00" stroke="#2a2a2a" stroke-width="0.85"/>
<line x1="610.90" y1="574.60" x2="615.50" y2="574.60" stroke="#2a2a2a" stroke-width="0.85"/>
<path d="M440.30 568.00 L456.10 579.93" fill="none" stroke="#000" stroke-width="1.8" stroke-dasharray="0.01 5.5" stroke-linecap="round"/>
<path d="M465.80 587.26 L483.20 600.40 L502.50 583.80 L520.30 627.30 L539.30 630.30 L556.90 633.60 L576.40 634.20 L613.20 633.00 " fill="none" stroke="#000" stroke-width="1.8" stroke-dasharray="0.01 5.5" stroke-linecap="round"/>
<path d="M440.30 547.20 L456.10 549.70" fill="none" stroke="#111" stroke-width="0.8"/>
<path d="M465.80 551.24 L483.20 554.00 L502.50 542.70 L520.30 559.50 L539.30 564.40 L556.90 567.40 L576.40 568.80 L613.20 570.80 " fill="none" stroke="#111" stroke-width="0.8"/>
<path d="M440.30 565.20 L442.65 569.90 L437.95 569.90 Z" fill="#fff" stroke="#000" stroke-width="1.3" stroke-linejoin="round"/>
<path d="M483.20 597.60 L485.55 602.30 L480.85 602.30 Z" fill="#fff" stroke="#000" stroke-width="1.3" stroke-linejoin="round"/>
<path d="M502.50 581.00 L504.85 585.70 L500.15 585.70 Z" fill="#fff" stroke="#000" stroke-width="1.3" stroke-linejoin="round"/>
<path d="M520.30 624.50 L522.65 629.20 L517.95 629.20 Z" fill="#fff" stroke="#000" stroke-width="1.3" stroke-linejoin="round"/>
<path d="M539.30 627.50 L541.65 632.20 L536.95 632.20 Z" fill="#fff" stroke="#000" stroke-width="1.3" stroke-linejoin="round"/>
<path d="M556.90 630.80 L559.25 635.50 L554.55 635.50 Z" fill="#fff" stroke="#000" stroke-width="1.3" stroke-linejoin="round"/>
<path d="M576.40 631.40 L578.75 636.10 L574.05 636.10 Z" fill="#fff" stroke="#000" stroke-width="1.3" stroke-linejoin="round"/>
<path d="M613.20 630.20 L615.55 634.90 L610.85 634.90 Z" fill="#fff" stroke="#000" stroke-width="1.3" stroke-linejoin="round"/>
<rect x="437.70" y="544.60" width="5.2" height="5.2" fill="#000"/>
<rect x="480.60" y="551.40" width="5.2" height="5.2" fill="#000"/>
<rect x="499.90" y="540.10" width="5.2" height="5.2" fill="#000"/>
<rect x="517.70" y="556.90" width="5.2" height="5.2" fill="#000"/>
<rect x="536.70" y="561.80" width="5.2" height="5.2" fill="#000"/>
<rect x="554.30" y="564.80" width="5.2" height="5.2" fill="#000"/>
<rect x="573.80" y="566.20" width="5.2" height="5.2" fill="#000"/>
<rect x="610.60" y="568.20" width="5.2" height="5.2" fill="#000"/>
<line x1="427.90" y1="524.30" x2="427.90" y2="636.60" stroke="#000" stroke-width="1.2"/>
<line x1="423.60" y1="636.00" x2="427.90" y2="636.00" stroke="#000" stroke-width="1.2"/>
<text x="422.4" y="639.25" font-size="9.1" font-weight="bold" text-anchor="end">0</text>
<line x1="423.60" y1="613.78" x2="427.90" y2="613.78" stroke="#000" stroke-width="1.2"/>
<text x="422.4" y="617.03" font-size="9.1" font-weight="bold" text-anchor="end">25</text>
<line x1="423.60" y1="591.56" x2="427.90" y2="591.56" stroke="#000" stroke-width="1.2"/>
<text x="422.4" y="594.81" font-size="9.1" font-weight="bold" text-anchor="end">50</text>
<line x1="423.60" y1="569.34" x2="427.90" y2="569.34" stroke="#000" stroke-width="1.2"/>
<text x="422.4" y="572.59" font-size="9.1" font-weight="bold" text-anchor="end">75</text>
<line x1="423.60" y1="547.12" x2="427.90" y2="547.12" stroke="#000" stroke-width="1.2"/>
<text x="422.4" y="550.37" font-size="9.1" font-weight="bold" text-anchor="end">100</text>
<line x1="423.60" y1="524.90" x2="427.90" y2="524.90" stroke="#000" stroke-width="1.2"/>
<text x="422.4" y="528.15" font-size="9.1" font-weight="bold" text-anchor="end">125</text>
<line x1="439.70" y1="649.40" x2="456.10" y2="649.40" stroke="#000" stroke-width="1.2"/>
<line x1="440.30" y1="649.40" x2="440.30" y2="652.80" stroke="#000" stroke-width="1.2"/>
<line x1="456.10" y1="646.60" x2="456.10" y2="652.40" stroke="#000" stroke-width="1.2"/>
<line x1="465.80" y1="646.60" x2="465.80" y2="652.40" stroke="#000" stroke-width="1.2"/>
<line x1="465.80" y1="649.40" x2="613.80" y2="649.40" stroke="#000" stroke-width="1.2"/>
<line x1="502.50" y1="649.40" x2="502.50" y2="652.80" stroke="#000" stroke-width="1.2"/>
<line x1="539.30" y1="649.40" x2="539.30" y2="652.80" stroke="#000" stroke-width="1.2"/>
<line x1="576.40" y1="649.40" x2="576.40" y2="652.80" stroke="#000" stroke-width="1.2"/>
<line x1="613.20" y1="649.40" x2="613.20" y2="652.80" stroke="#000" stroke-width="1.2"/>
<text x="440.3" y="663.0" font-size="9.3" font-weight="bold" text-anchor="middle">0</text>
<text x="465.8" y="663.0" font-size="9.3" font-weight="bold" text-anchor="middle">0.001</text>
<text x="502.5" y="663.0" font-size="9.3" font-weight="bold" text-anchor="middle">0.01</text>
<text x="539.3" y="663.0" font-size="9.3" font-weight="bold" text-anchor="middle">0.1</text>
<text x="576.4" y="663.0" font-size="9.3" font-weight="bold" text-anchor="middle">1</text>
<text x="613.2" y="663.0" font-size="9.3" font-weight="bold" text-anchor="middle">10</text>
<text x="526.95" y="676.0" font-size="9.9" font-weight="bold" text-anchor="middle">ASNase (U/ml)</text>
<text x="401.8" y="580.45" font-size="10" font-weight="bold" text-anchor="middle" transform="rotate(-90 401.8 580.45)">cell number [%]</text>
<text x="520.3" y="510.7" font-size="12.2" font-weight="bold" text-anchor="middle">HepT1</text>
<line x1="626.20" y1="533.50" x2="639.00" y2="533.50" stroke="#111" stroke-width="0.8"/>
<rect x="630.10" y="531.00" width="5" height="5" fill="#000"/>
<path d="M626.20 548.00 L639.00 548.00" fill="none" stroke="#000" stroke-width="1.8" stroke-dasharray="0.01 5.5" stroke-linecap="round"/>
<rect x="629.00" y="546.00" width="7.2" height="4" fill="#fff"/>
<path d="M632.60 545.20 L634.90 549.80 L630.30 549.80 Z" fill="#fff" stroke="#000" stroke-width="1.25" stroke-linejoin="round"/>
<text x="646.3" y="536.8" font-size="10" font-weight="bold" text-anchor="start">no MSO</text>
<text x="646.3" y="550.6" font-size="10" font-weight="bold" text-anchor="start">MSO</text>
<line x1="86.60" y1="763.70" x2="86.60" y2="770.30" stroke="#4a4a4a" stroke-width="0.9"/>
<line x1="84.30" y1="763.70" x2="88.90" y2="763.70" stroke="#4a4a4a" stroke-width="0.9"/>
<line x1="129.20" y1="760.20" x2="129.20" y2="764.40" stroke="#4a4a4a" stroke-width="0.9"/>
<line x1="126.90" y1="760.20" x2="131.50" y2="760.20" stroke="#4a4a4a" stroke-width="0.9"/>
<line x1="148.30" y1="764.20" x2="148.30" y2="771.70" stroke="#4a4a4a" stroke-width="0.9"/>
<line x1="146.00" y1="764.20" x2="150.60" y2="764.20" stroke="#4a4a4a" stroke-width="0.9"/>
<line x1="165.80" y1="792.50" x2="165.80" y2="806.90" stroke="#4a4a4a" stroke-width="0.9"/>
<line x1="163.50" y1="792.50" x2="168.10" y2="792.50" stroke="#4a4a4a" stroke-width="0.9"/>
<line x1="163.50" y1="806.90" x2="168.10" y2="806.90" stroke="#4a4a4a" stroke-width="0.9"/>
<line x1="184.60" y1="822.20" x2="184.60" y2="836.00" stroke="#4a4a4a" stroke-width="0.9"/>
<line x1="182.30" y1="822.20" x2="186.90" y2="822.20" stroke="#4a4a4a" stroke-width="0.9"/>
<line x1="182.30" y1="836.00" x2="186.90" y2="836.00" stroke="#4a4a4a" stroke-width="0.9"/>
<line x1="201.80" y1="821.10" x2="201.80" y2="844.50" stroke="#4a4a4a" stroke-width="0.9"/>
<line x1="199.50" y1="821.10" x2="204.10" y2="821.10" stroke="#4a4a4a" stroke-width="0.9"/>
<line x1="199.50" y1="844.50" x2="204.10" y2="844.50" stroke="#4a4a4a" stroke-width="0.9"/>
<line x1="221.10" y1="820.70" x2="221.10" y2="849.80" stroke="#4a4a4a" stroke-width="0.9"/>
<line x1="218.80" y1="820.70" x2="223.40" y2="820.70" stroke="#4a4a4a" stroke-width="0.9"/>
<line x1="218.80" y1="849.80" x2="223.40" y2="849.80" stroke="#4a4a4a" stroke-width="0.9"/>
<line x1="129.20" y1="764.80" x2="129.20" y2="778.60" stroke="#4a4a4a" stroke-width="0.9"/>
<line x1="126.90" y1="764.80" x2="131.50" y2="764.80" stroke="#4a4a4a" stroke-width="0.9"/>
<line x1="126.90" y1="778.60" x2="131.50" y2="778.60" stroke="#4a4a4a" stroke-width="0.9"/>
<line x1="148.30" y1="772.50" x2="148.30" y2="783.00" stroke="#4a4a4a" stroke-width="0.9"/>
<line x1="146.00" y1="772.50" x2="150.60" y2="772.50" stroke="#4a4a4a" stroke-width="0.9"/>
<line x1="146.00" y1="783.00" x2="150.60" y2="783.00" stroke="#4a4a4a" stroke-width="0.9"/>
<line x1="165.80" y1="771.30" x2="165.80" y2="783.00" stroke="#4a4a4a" stroke-width="0.9"/>
<line x1="163.50" y1="771.30" x2="168.10" y2="771.30" stroke="#4a4a4a" stroke-width="0.9"/>
<line x1="163.50" y1="783.00" x2="168.10" y2="783.00" stroke="#4a4a4a" stroke-width="0.9"/>
<line x1="184.60" y1="777.60" x2="184.60" y2="790.10" stroke="#4a4a4a" stroke-width="0.9"/>
<line x1="182.30" y1="777.60" x2="186.90" y2="777.60" stroke="#4a4a4a" stroke-width="0.9"/>
<line x1="182.30" y1="790.10" x2="186.90" y2="790.10" stroke="#4a4a4a" stroke-width="0.9"/>
<line x1="201.80" y1="777.20" x2="201.80" y2="796.40" stroke="#4a4a4a" stroke-width="0.9"/>
<line x1="199.50" y1="777.20" x2="204.10" y2="777.20" stroke="#4a4a4a" stroke-width="0.9"/>
<line x1="199.50" y1="796.40" x2="204.10" y2="796.40" stroke="#4a4a4a" stroke-width="0.9"/>
<line x1="221.10" y1="783.60" x2="221.10" y2="799.40" stroke="#4a4a4a" stroke-width="0.9"/>
<line x1="218.80" y1="783.60" x2="223.40" y2="783.60" stroke="#4a4a4a" stroke-width="0.9"/>
<line x1="218.80" y1="799.40" x2="223.40" y2="799.40" stroke="#4a4a4a" stroke-width="0.9"/>
<path d="M86.60 770.30 L102.70 768.07" fill="none" stroke="#1a1a1a" stroke-width="0.85" stroke-dasharray="2 1.5"/>
<path d="M111.80 766.81 L129.20 764.40 L148.30 771.70 L165.80 799.80 L184.60 829.40 L201.80 833.40 L221.10 836.00 " fill="none" stroke="#1a1a1a" stroke-width="0.85" stroke-dasharray="2 1.5"/>
<path d="M86.60 779.30 L102.70 776.28" fill="none" stroke="#111" stroke-width="1.0"/>
<path d="M111.80 774.57 L129.20 771.30 L148.30 777.60 L165.80 777.00 L184.60 784.00 L201.80 786.90 L221.10 791.50 " fill="none" stroke="#111" stroke-width="1.0"/>
<path d="M86.60 767.50 L88.95 772.20 L84.25 772.20 Z" fill="#fff" stroke="#000" stroke-width="1.3" stroke-linejoin="round"/>
<path d="M129.20 761.60 L131.55 766.30 L126.85 766.30 Z" fill="#fff" stroke="#000" stroke-width="1.3" stroke-linejoin="round"/>
<path d="M148.30 768.90 L150.65 773.60 L145.95 773.60 Z" fill="#fff" stroke="#000" stroke-width="1.3" stroke-linejoin="round"/>
<path d="M165.80 797.00 L168.15 801.70 L163.45 801.70 Z" fill="#fff" stroke="#000" stroke-width="1.3" stroke-linejoin="round"/>
<path d="M184.60 826.60 L186.95 831.30 L182.25 831.30 Z" fill="#fff" stroke="#000" stroke-width="1.3" stroke-linejoin="round"/>
<path d="M201.80 830.60 L204.15 835.30 L199.45 835.30 Z" fill="#fff" stroke="#000" stroke-width="1.3" stroke-linejoin="round"/>
<path d="M221.10 833.20 L223.45 837.90 L218.75 837.90 Z" fill="#fff" stroke="#000" stroke-width="1.3" stroke-linejoin="round"/>
<rect x="84.00" y="776.70" width="5.2" height="5.2" fill="#000"/>
<rect x="126.60" y="768.70" width="5.2" height="5.2" fill="#000"/>
<rect x="145.70" y="775.00" width="5.2" height="5.2" fill="#000"/>
<rect x="163.20" y="774.40" width="5.2" height="5.2" fill="#000"/>
<rect x="182.00" y="781.40" width="5.2" height="5.2" fill="#000"/>
<rect x="199.20" y="784.30" width="5.2" height="5.2" fill="#000"/>
<rect x="218.50" y="788.90" width="5.2" height="5.2" fill="#000"/>
<line x1="74.60" y1="756.80" x2="74.60" y2="867.60" stroke="#000" stroke-width="1.2"/>
<line x1="70.30" y1="867.00" x2="74.60" y2="867.00" stroke="#000" stroke-width="1.2"/>
<text x="68.2" y="870.25" font-size="9.1" font-weight="bold" text-anchor="end">0</text>
<line x1="70.30" y1="845.08" x2="74.60" y2="845.08" stroke="#000" stroke-width="1.2"/>
<text x="68.2" y="848.33" font-size="9.1" font-weight="bold" text-anchor="end">25</text>
<line x1="70.30" y1="823.16" x2="74.60" y2="823.16" stroke="#000" stroke-width="1.2"/>
<text x="68.2" y="826.41" font-size="9.1" font-weight="bold" text-anchor="end">50</text>
<line x1="70.30" y1="801.24" x2="74.60" y2="801.24" stroke="#000" stroke-width="1.2"/>
<text x="68.2" y="804.49" font-size="9.1" font-weight="bold" text-anchor="end">75</text>
<line x1="70.30" y1="779.32" x2="74.60" y2="779.32" stroke="#000" stroke-width="1.2"/>
<text x="68.2" y="782.5699999999999" font-size="9.1" font-weight="bold" text-anchor="end">100</text>
<line x1="70.30" y1="757.40" x2="74.60" y2="757.40" stroke="#000" stroke-width="1.2"/>
<text x="68.2" y="760.65" font-size="9.1" font-weight="bold" text-anchor="end">125</text>
<line x1="86.00" y1="879.10" x2="102.70" y2="879.10" stroke="#000" stroke-width="1.2"/>
<line x1="86.60" y1="879.10" x2="86.60" y2="882.50" stroke="#000" stroke-width="1.2"/>
<line x1="102.70" y1="876.30" x2="102.70" y2="882.10" stroke="#000" stroke-width="1.2"/>
<line x1="111.80" y1="876.30" x2="111.80" y2="882.10" stroke="#000" stroke-width="1.2"/>
<line x1="111.80" y1="879.10" x2="258.00" y2="879.10" stroke="#000" stroke-width="1.2"/>
<line x1="148.30" y1="879.10" x2="148.30" y2="882.50" stroke="#000" stroke-width="1.2"/>
<line x1="184.60" y1="879.10" x2="184.60" y2="882.50" stroke="#000" stroke-width="1.2"/>
<line x1="221.10" y1="879.10" x2="221.10" y2="882.50" stroke="#000" stroke-width="1.2"/>
<line x1="257.40" y1="879.10" x2="257.40" y2="882.50" stroke="#000" stroke-width="1.2"/>
<text x="86.6" y="894.3" font-size="9.3" font-weight="bold" text-anchor="middle">0</text>
<text x="111.8" y="894.3" font-size="9.3" font-weight="bold" text-anchor="middle">0.001</text>
<text x="148.3" y="894.3" font-size="9.3" font-weight="bold" text-anchor="middle">0.01</text>
<text x="184.6" y="894.3" font-size="9.3" font-weight="bold" text-anchor="middle">0.1</text>
<text x="221.1" y="894.3" font-size="9.3" font-weight="bold" text-anchor="middle">1</text>
<text x="257.4" y="894.3" font-size="9.3" font-weight="bold" text-anchor="middle">10</text>
<text x="172.2" y="908.4" font-size="9.9" font-weight="bold" text-anchor="middle">ASNase (U/ml)</text>
<text x="46.1" y="812.2" font-size="10" font-weight="bold" text-anchor="middle" transform="rotate(-90 46.1 812.2)">Viability [%]</text>
<text x="170.3" y="748.8" font-size="13.1" font-weight="bold" text-anchor="middle">Huh-6</text>
<line x1="258.80" y1="766.30" x2="271.70" y2="766.30" stroke="#111" stroke-width="1.0"/>
<rect x="262.75" y="763.80" width="5" height="5" fill="#000"/>
<path d="M258.80 780.90 L271.70 780.90" fill="none" stroke="#1a1a1a" stroke-width="0.85" stroke-dasharray="2 1.5"/>
<rect x="261.65" y="778.90" width="7.2" height="4" fill="#fff"/>
<path d="M265.25 778.10 L267.55 782.70 L262.95 782.70 Z" fill="#fff" stroke="#000" stroke-width="1.25" stroke-linejoin="round"/>
<text x="279.2" y="769.7" font-size="10" font-weight="bold" text-anchor="start">no MSO</text>
<text x="279.2" y="783.7" font-size="10" font-weight="bold" text-anchor="start">MSO</text>
<line x1="441.20" y1="765.40" x2="441.20" y2="773.40" stroke="#4a4a4a" stroke-width="0.9"/>
<line x1="438.90" y1="765.40" x2="443.50" y2="765.40" stroke="#4a4a4a" stroke-width="0.9"/>
<line x1="483.60" y1="766.00" x2="483.60" y2="788.10" stroke="#4a4a4a" stroke-width="0.9"/>
<line x1="481.30" y1="766.00" x2="485.90" y2="766.00" stroke="#4a4a4a" stroke-width="0.9"/>
<line x1="481.30" y1="788.10" x2="485.90" y2="788.10" stroke="#4a4a4a" stroke-width="0.9"/>
<line x1="502.60" y1="777.60" x2="502.60" y2="786.90" stroke="#4a4a4a" stroke-width="0.9"/>
<line x1="500.30" y1="777.60" x2="504.90" y2="777.60" stroke="#4a4a4a" stroke-width="0.9"/>
<line x1="500.30" y1="786.90" x2="504.90" y2="786.90" stroke="#4a4a4a" stroke-width="0.9"/>
<line x1="520.30" y1="769.90" x2="520.30" y2="802.30" stroke="#4a4a4a" stroke-width="0.9"/>
<line x1="518.00" y1="769.90" x2="522.60" y2="769.90" stroke="#4a4a4a" stroke-width="0.9"/>
<line x1="518.00" y1="802.30" x2="522.60" y2="802.30" stroke="#4a4a4a" stroke-width="0.9"/>
<line x1="539.10" y1="801.40" x2="539.10" y2="825.10" stroke="#4a4a4a" stroke-width="0.9"/>
<line x1="536.80" y1="801.40" x2="541.40" y2="801.40" stroke="#4a4a4a" stroke-width="0.9"/>
<line x1="536.80" y1="825.10" x2="541.40" y2="825.10" stroke="#4a4a4a" stroke-width="0.9"/>
<line x1="556.50" y1="798.80" x2="556.50" y2="824.50" stroke="#4a4a4a" stroke-width="0.9"/>
<line x1="554.20" y1="798.80" x2="558.80" y2="798.80" stroke="#4a4a4a" stroke-width="0.9"/>
<line x1="554.20" y1="824.50" x2="558.80" y2="824.50" stroke="#4a4a4a" stroke-width="0.9"/>
<line x1="575.70" y1="806.30" x2="575.70" y2="829.40" stroke="#4a4a4a" stroke-width="0.9"/>
<line x1="573.40" y1="806.30" x2="578.00" y2="806.30" stroke="#4a4a4a" stroke-width="0.9"/>
<line x1="573.40" y1="829.40" x2="578.00" y2="829.40" stroke="#4a4a4a" stroke-width="0.9"/>
<line x1="483.60" y1="764.20" x2="483.60" y2="778.60" stroke="#4a4a4a" stroke-width="0.9"/>
<line x1="481.30" y1="764.20" x2="485.90" y2="764.20" stroke="#4a4a4a" stroke-width="0.9"/>
<line x1="481.30" y1="778.60" x2="485.90" y2="778.60" stroke="#4a4a4a" stroke-width="0.9"/>
<line x1="502.60" y1="772.30" x2="502.60" y2="782.80" stroke="#4a4a4a" stroke-width="0.9"/>
<line x1="500.30" y1="772.30" x2="504.90" y2="772.30" stroke="#4a4a4a" stroke-width="0.9"/>
<line x1="500.30" y1="782.80" x2="504.90" y2="782.80" stroke="#4a4a4a" stroke-width="0.9"/>
<line x1="520.30" y1="768.30" x2="520.30" y2="785.00" stroke="#4a4a4a" stroke-width="0.9"/>
<line x1="518.00" y1="768.30" x2="522.60" y2="768.30" stroke="#4a4a4a" stroke-width="0.9"/>
<line x1="518.00" y1="785.00" x2="522.60" y2="785.00" stroke="#4a4a4a" stroke-width="0.9"/>
<line x1="539.10" y1="778.00" x2="539.10" y2="790.50" stroke="#4a4a4a" stroke-width="0.9"/>
<line x1="536.80" y1="778.00" x2="541.40" y2="778.00" stroke="#4a4a4a" stroke-width="0.9"/>
<line x1="536.80" y1="790.50" x2="541.40" y2="790.50" stroke="#4a4a4a" stroke-width="0.9"/>
<line x1="556.50" y1="777.20" x2="556.50" y2="796.40" stroke="#4a4a4a" stroke-width="0.9"/>
<line x1="554.20" y1="777.20" x2="558.80" y2="777.20" stroke="#4a4a4a" stroke-width="0.9"/>
<line x1="554.20" y1="796.40" x2="558.80" y2="796.40" stroke="#4a4a4a" stroke-width="0.9"/>
<line x1="575.70" y1="783.60" x2="575.70" y2="799.40" stroke="#4a4a4a" stroke-width="0.9"/>
<line x1="573.40" y1="783.60" x2="578.00" y2="783.60" stroke="#4a4a4a" stroke-width="0.9"/>
<line x1="573.40" y1="799.40" x2="578.00" y2="799.40" stroke="#4a4a4a" stroke-width="0.9"/>
<path d="M441.20 773.40 L457.00 775.11" fill="none" stroke="#1a1a1a" stroke-width="0.85" stroke-dasharray="2 1.5"/>
<path d="M466.10 776.10 L483.60 778.00 L502.60 782.60 L520.30 785.80 L539.10 813.60 L556.50 812.20 L575.70 818.20 " fill="none" stroke="#1a1a1a" stroke-width="0.85" stroke-dasharray="2 1.5"/>
<path d="M441.20 779.80 L457.00 776.63" fill="none" stroke="#111" stroke-width="1.0"/>
<path d="M466.10 774.81 L483.60 771.30 L502.60 777.60 L520.30 777.10 L539.10 784.20 L556.50 787.10 L575.70 791.90 " fill="none" stroke="#111" stroke-width="1.0"/>
<path d="M441.20 770.60 L443.55 775.30 L438.85 775.30 Z" fill="#fff" stroke="#000" stroke-width="1.3" stroke-linejoin="round"/>
<path d="M483.60 775.20 L485.95 779.90 L481.25 779.90 Z" fill="#fff" stroke="#000" stroke-width="1.3" stroke-linejoin="round"/>
<path d="M502.60 779.80 L504.95 784.50 L500.25 784.50 Z" fill="#fff" stroke="#000" stroke-width="1.3" stroke-linejoin="round"/>
<path d="M520.30 783.00 L522.65 787.70 L517.95 787.70 Z" fill="#fff" stroke="#000" stroke-width="1.3" stroke-linejoin="round"/>
<path d="M539.10 810.80 L541.45 815.50 L536.75 815.50 Z" fill="#fff" stroke="#000" stroke-width="1.3" stroke-linejoin="round"/>
<path d="M556.50 809.40 L558.85 814.10 L554.15 814.10 Z" fill="#fff" stroke="#000" stroke-width="1.3" stroke-linejoin="round"/>
<path d="M575.70 815.40 L578.05 820.10 L573.35 820.10 Z" fill="#fff" stroke="#000" stroke-width="1.3" stroke-linejoin="round"/>
<rect x="438.60" y="777.20" width="5.2" height="5.2" fill="#000"/>
<rect x="481.00" y="768.70" width="5.2" height="5.2" fill="#000"/>
<rect x="500.00" y="775.00" width="5.2" height="5.2" fill="#000"/>
<rect x="517.70" y="774.50" width="5.2" height="5.2" fill="#000"/>
<rect x="536.50" y="781.60" width="5.2" height="5.2" fill="#000"/>
<rect x="553.90" y="784.50" width="5.2" height="5.2" fill="#000"/>
<rect x="573.10" y="789.30" width="5.2" height="5.2" fill="#000"/>
<line x1="428.90" y1="756.80" x2="428.90" y2="867.60" stroke="#000" stroke-width="1.2"/>
<line x1="424.60" y1="867.00" x2="428.90" y2="867.00" stroke="#000" stroke-width="1.2"/>
<text x="422.5" y="870.25" font-size="9.1" font-weight="bold" text-anchor="end">0</text>
<line x1="424.60" y1="845.08" x2="428.90" y2="845.08" stroke="#000" stroke-width="1.2"/>
<text x="422.5" y="848.33" font-size="9.1" font-weight="bold" text-anchor="end">25</text>
<line x1="424.60" y1="823.16" x2="428.90" y2="823.16" stroke="#000" stroke-width="1.2"/>
<text x="422.5" y="826.41" font-size="9.1" font-weight="bold" text-anchor="end">50</text>
<line x1="424.60" y1="801.24" x2="428.90" y2="801.24" stroke="#000" stroke-width="1.2"/>
<text x="422.5" y="804.49" font-size="9.1" font-weight="bold" text-anchor="end">75</text>
<line x1="424.60" y1="779.32" x2="428.90" y2="779.32" stroke="#000" stroke-width="1.2"/>
<text x="422.5" y="782.5699999999999" font-size="9.1" font-weight="bold" text-anchor="end">100</text>
<line x1="424.60" y1="757.40" x2="428.90" y2="757.40" stroke="#000" stroke-width="1.2"/>
<text x="422.5" y="760.65" font-size="9.1" font-weight="bold" text-anchor="end">125</text>
<line x1="440.30" y1="879.10" x2="457.00" y2="879.10" stroke="#000" stroke-width="1.2"/>
<line x1="440.90" y1="879.10" x2="440.90" y2="882.50" stroke="#000" stroke-width="1.2"/>
<line x1="457.00" y1="876.30" x2="457.00" y2="882.10" stroke="#000" stroke-width="1.2"/>
<line x1="466.10" y1="876.30" x2="466.10" y2="882.10" stroke="#000" stroke-width="1.2"/>
<line x1="466.10" y1="879.10" x2="612.30" y2="879.10" stroke="#000" stroke-width="1.2"/>
<line x1="502.60" y1="879.10" x2="502.60" y2="882.50" stroke="#000" stroke-width="1.2"/>
<line x1="538.90" y1="879.10" x2="538.90" y2="882.50" stroke="#000" stroke-width="1.2"/>
<line x1="575.40" y1="879.10" x2="575.40" y2="882.50" stroke="#000" stroke-width="1.2"/>
<line x1="611.70" y1="879.10" x2="611.70" y2="882.50" stroke="#000" stroke-width="1.2"/>
<text x="440.9" y="894.3" font-size="9.3" font-weight="bold" text-anchor="middle">0</text>
<text x="466.1" y="894.3" font-size="9.3" font-weight="bold" text-anchor="middle">0.001</text>
<text x="502.6" y="894.3" font-size="9.3" font-weight="bold" text-anchor="middle">0.01</text>
<text x="538.9" y="894.3" font-size="9.3" font-weight="bold" text-anchor="middle">0.1</text>
<text x="575.4" y="894.3" font-size="9.3" font-weight="bold" text-anchor="middle">1</text>
<text x="611.7" y="894.3" font-size="9.3" font-weight="bold" text-anchor="middle">10</text>
<text x="526.5" y="908.4" font-size="9.9" font-weight="bold" text-anchor="middle">ASNase (U/ml)</text>
<text x="400.40000000000003" y="812.2" font-size="10" font-weight="bold" text-anchor="middle" transform="rotate(-90 400.40000000000003 812.2)">Viability [%]</text>
<text x="525.5" y="748.2" font-size="13.3" font-weight="bold" text-anchor="middle">HepT1</text>
<line x1="619.60" y1="766.00" x2="632.30" y2="766.00" stroke="#111" stroke-width="1.0"/>
<rect x="623.45" y="763.50" width="5" height="5" fill="#000"/>
<path d="M619.60 782.30 L632.30 782.30" fill="none" stroke="#1a1a1a" stroke-width="0.85" stroke-dasharray="2 1.5"/>
<rect x="622.35" y="780.30" width="7.2" height="4" fill="#fff"/>
<path d="M625.95 779.50 L628.25 784.10 L623.65 784.10 Z" fill="#fff" stroke="#000" stroke-width="1.25" stroke-linejoin="round"/>
<text x="639.6" y="769.3" font-size="10" font-weight="bold" text-anchor="start">no MSO</text>
<text x="639.6" y="785.6" font-size="10" font-weight="bold" text-anchor="start">MSO</text>
</svg>
</body></html>
